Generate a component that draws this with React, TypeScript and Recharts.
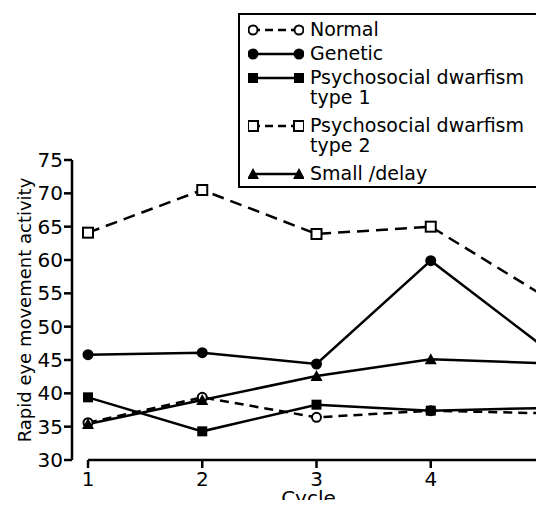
import React from "react";
import { LineChart, Line, XAxis, YAxis, Legend, ReferenceLine } from "recharts";

const cycles = [1, 2, 3, 4, 5];
const normal = [35.6, 39.4, 36.4, 37.4, 37.0];
const genetic = [45.8, 46.1, 44.4, 59.9, 46.8];
const psychosocial1 = [39.4, 34.3, 38.3, 37.4, 37.8];
const psychosocial2 = [64.1, 70.5, 63.9, 65.0, 54.5];
const smallDelay = [35.4, 39.0, 42.6, 45.1, 44.5];
const yTicks = [30, 35, 40, 45, 50, 55, 60, 65, 70, 75];

const SERIES = [
  { key: "normal", label: ["Normal"], marker: "openCircle", dash: "9 6" },
  { key: "genetic", label: ["Genetic"], marker: "circle", dash: undefined },
  { key: "psych1", label: ["Psychosocial dwarfism", "type 1"], marker: "square", dash: undefined },
  { key: "psych2", label: ["Psychosocial dwarfism", "type 2"], marker: "openSquare", dash: "12 7" },
  { key: "small", label: ["Small /delay"], marker: "triangle", dash: undefined },
];

const data = cycles.map((c, i) => ({
  cycle: c,
  normal: normal[i],
  genetic: genetic[i],
  psych1: psychosocial1[i],
  psych2: psychosocial2[i],
  small: smallDelay[i],
}));

const FONT = "'DejaVu Sans', sans-serif";

function Marker({ kind, cx, cy }: { kind: string; cx: number; cy: number }) {
  if (cx == null || cy == null) return null;
  switch (kind) {
    case "openCircle":
      return <circle cx={cx} cy={cy} r={4.5} fill="#fff" stroke="#000" strokeWidth={2} />;
    case "circle":
      return <circle cx={cx} cy={cy} r={5.5} fill="#000" />;
    case "square":
      return <rect x={cx - 5} y={cy - 5} width={10} height={10} fill="#000" />;
    case "openSquare":
      return <rect x={cx - 5} y={cy - 5} width={10} height={10} fill="#fff" stroke="#000" strokeWidth={2} />;
    case "triangle":
      return <polygon points={`${cx},${cy - 6} ${cx + 6},${cy + 5} ${cx - 6},${cy + 5}`} fill="#000" />;
    default:
      return null;
  }
}

function LegendBox() {
  return (
    <div style={{ border: "2px solid #000", width: 304, height: 175, boxSizing: "border-box", padding: "4px 0 0 8px", fontFamily: FONT, fontSize: 19, color: "#000", background: "#fff" }}>
      {SERIES.map((s) => (
        <div key={s.key} style={{ display: "flex", alignItems: "flex-start", marginBottom: s.label.length > 1 ? 8 : 3 }}>
          <svg width={56} height={21} style={{ flex: "none" }}>
            <line x1={4} y1={11} x2={52} y2={11} stroke="#000" strokeWidth={2.5} strokeDasharray={s.dash ? "8 5" : undefined} />
            <Marker kind={s.marker} cx={5} cy={11} />
            <Marker kind={s.marker} cx={51} cy={11} />
          </svg>
          <div style={{ marginLeft: 6 }}>
            {s.label.map((t, i) => (
              <div key={i} style={{ lineHeight: i === 0 ? "21px" : "19px" }}>{t}</div>
            ))}
          </div>
        </div>
      ))}
    </div>
  );
}

export default function App() {
  return (
    <div style={{ margin: -8, width: 544, height: 508, overflow: "hidden", position: "relative", background: "#fff" }}>
      <LineChart width={570} height={508} data={data} margin={{ top: 160, right: 25, bottom: 0, left: 0 }}>
        <XAxis
          dataKey="cycle"
          type="number"
          domain={[1, 5]}
          ticks={cycles}
          padding={{ left: 16, right: 0 }}
          axisLine={false}
          tickLine={{ stroke: "#000", strokeWidth: 2.5 }}
          tickSize={8}
          tickMargin={4}
          height={48}
          tick={{ fill: "#000", fontSize: 20, fontFamily: FONT }}
          label={{ value: "Cycle", position: "insideBottom", offset: 3, fill: "#000", fontSize: 20, fontFamily: FONT }}
        />
        <YAxis
          type="number"
          domain={[30, 75]}
          ticks={yTicks}
          width={72}
          axisLine={{ stroke: "#000", strokeWidth: 2.5 }}
          tickLine={{ stroke: "#000", strokeWidth: 2.5 }}
          tickSize={8}
          tickMargin={1}
          tick={{ fill: "#000", fontSize: 20, fontFamily: FONT }}
          label={{ value: "Rapid eye movement activity", angle: -90, position: "insideLeft", offset: 25, fill: "#000", fontSize: 18, fontFamily: FONT, style: { textAnchor: "middle" } }}
        />
        <ReferenceLine segment={[{ x: 1, y: 30 }, { x: 5, y: 30 }]} stroke="#000" strokeWidth={2.5} ifOverflow="visible" />
        <Legend layout="vertical" align="center" verticalAlign="middle" content={() => <LegendBox />} wrapperStyle={{ top: 13, left: 238, width: 304 }} />
        {SERIES.map((s) => (
          <Line
            key={s.key}
            dataKey={s.key}
            type="linear"
            stroke="#000"
            strokeWidth={2.5}
            strokeDasharray={s.dash}
            isAnimationActive={false}
            dot={(p: any) => <Marker key={`${s.key}-${p.index}`} kind={s.marker} cx={p.cx} cy={p.cy} />}
            activeDot={false}
          />
        ))}
      </LineChart>
    </div>
  );
}
